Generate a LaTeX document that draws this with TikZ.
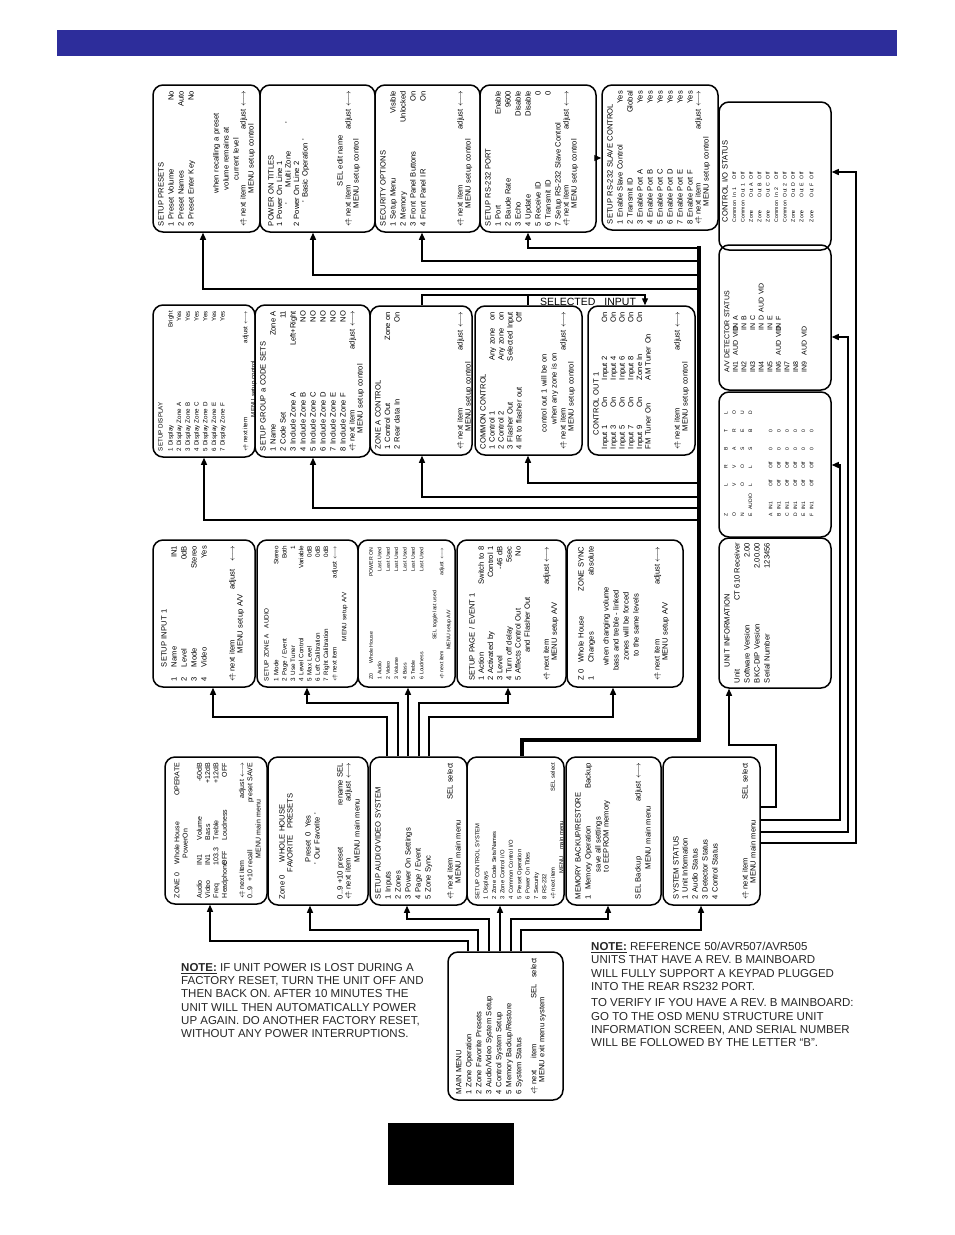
\documentclass[tikz,border=0pt]{standalone}
\usepackage{fontspec}
\setmainfont{Liberation Sans}
\usetikzlibrary{arrows.meta}
\setlength{\parindent}{0pt}

\definecolor{barblue}{RGB}{45,45,155}
\newcommand{\nav}{$\leftarrow\!\!\!\!\uparrow$}
\newcommand{\adj}{$\leftarrow\!\rightarrow$}
\newcommand{\cl}[2]{\makebox[#1pt][l]{#2}}
\newcommand{\fa}{\fontsize{7.6}{10}\selectfont}
\newcommand{\fb}{\fontsize{6.2}{8.4}\selectfont}
\newcommand{\fc}{\fontsize{5.2}{8.4}\selectfont}
% one menu screen: [text options]{name}{x1}{y1}{x2}{y2}{font}{text}
% (text is turned, so yshift<0 moves it right on the page)
\newcommand{\menu}[8][]{%
  \pgfmathsetmacro{\bw}{#5-#3}%
  \pgfmathsetmacro{\bh}{#6-#4}%
  \pgfmathsetmacro{\tw}{#6-#4-12}%
  \node[menubox, minimum width=\bw pt, minimum height=\bh pt] (#2) at ({(#3+#5)/2},{(#4+#6)/2}) {};
  \node[menutext, font=#7, text width=\tw pt, #1] (#2-t) at ({#3+5},{(#4+#6)/2}) {#8};
}

\begin{document}
\begin{tikzpicture}[x=1pt, y=-1pt,
    menubox/.style={draw, line width=1.5pt, rounded corners=10pt, inner sep=0pt},
    menutext/.style={rotate=90, anchor=north, inner sep=0pt, align=left},
    link/.style={line width=1.3pt, -{Triangle[length=7pt,width=6pt]}},
    plain/.style={line width=1.3pt},
    bus/.style={line width=4.5pt},
    notetext/.style={font=\fontsize{11.5}{13.3}\selectfont, text=black!85, align=left, inner sep=0pt}]
    \useasboundingbox (0,0) rectangle (954,1235);

    % Title bar
    \fill[barblue] (57,30) rectangle (897,56);

    % Row 1: control system screens
    \menu{presets}{153}{85}{260}{232}{\fa}{SETUP PRESETS\\
      1 Preset Volume\hfill No\\
      2 Preset Names\hfill Auto\\
      3 Preset Enter Key\hfill No\\[15pt]
      \hspace*{33pt}when recalling a preset\\
      \hspace*{36pt}volume remains at\\
      \hspace*{46pt}current level\\[-3pt]
      \nav\ next item\hfill adjust \adj\\[-2pt]
      \hspace*{33pt}MENU setup control}
    \menu[yshift=-3pt]{power}{260}{85}{375}{232}{\fa}{POWER ON TITLES\\[-1.5pt]
      1 Power On Line 1\\[-1.5pt]
      \hspace*{22pt}'\hspace{15pt}Multi Zone\hspace{28pt}'\\[-1.5pt]
      2 Power On Line 2\\[-1.5pt]
      \hspace*{24pt}' Basic Operation '\\[25pt]
      \hspace*{40pt}SEL edit name\\[-2pt]
      \nav\ next item\hfill adjust \adj\\[-2pt]
      \hspace*{18pt}MENU setup control}
    \menu{security}{375}{85}{480}{232}{\fa}{SECURITY OPTIONS\\
      1 Setup Menu\hfill Visible\\
      2 Memory\hfill Unlocked\\
      3 Front Panel Buttons\hfill On\\
      4 Front Panel IR\hfill On\\[27pt]
      \nav\ next item\hfill adjust \adj\\[-2pt]
      \hspace*{18pt}MENU setup control}
    \menu{rs232}{480}{85}{596}{232}{\fa}{SETUP RS-232 PORT\\
      1 Port\hfill Enable\\
      2 Baude Rate\hfill 9600\\
      3 Echo\hfill Disable\\
      4 Update\hfill Disable\\
      5 Receive ID\hfill 0\hspace{8pt}\\
      6 Transmit ID\hfill 0\hspace{8pt}\\
      7 Setup RS-232 Slave Control\\[-2pt]
      \nav\ next item\hfill adjust \adj\\[-2pt]
      \hspace*{18pt}MENU setup control}
    \menu{slave}{602}{85}{718}{230}{\fa}{SETUP RS-232 SLAVE CONTROL\\
      1 Enable Slave Control\hfill Yes\\
      2 Transmit ID\hfill Global\\
      3 Enable Port A\hfill Yes\\
      4 Enable Port B\hfill Yes\\
      5 Enable Port C\hfill Yes\\
      6 Enable Port D\hfill Yes\\
      7 Enable Port E\hfill Yes\\
      8 Enable Port F\hfill Yes\\[-2pt]
      \nav\ next item\hfill adjust \adj\\[-2pt]
      \hspace*{18pt}MENU setup control}

    % Right column: status screens
    \menu[yshift=2pt, text width=92pt]{ctrlio}{719}{102}{831}{250}{\fa}{CONTROL I/O STATUS\\
      \fc\cl{25}{Common}\cl{18}{In 1}Off\\
      \cl{25}{Common}\cl{18}{Out 1}Off\\
      \cl{25}{Zone}\cl{18}{Out A}Off\\
      \cl{25}{Zone}\cl{18}{Out B}Off\\
      \cl{25}{Zone}\cl{18}{Out C}Off\\
      \cl{25}{Common}\cl{18}{In 2}Off\\
      \cl{25}{Common}\cl{18}{Out 2}Off\\
      \cl{25}{Zone}\cl{18}{Out D}Off\\
      \cl{25}{Zone}\cl{18}{Out E}Off\\
      \cl{25}{Zone}\cl{18}{Out F}Off}
    \menu[text width=109pt]{avdet}{719}{245}{831}{390}{\fontsize{7}{8.6}\selectfont}{A/V DETECTOR STATUS\\
      \cl{17}{IN1}\cl{25}{AUD VID}IN A\\
      \cl{42}{IN2}IN B\\
      \cl{42}{IN3}IN C\\
      \cl{42}{IN4}\cl{18}{IN D}AUD VID\\
      \cl{42}{IN5}IN E\\
      \cl{17}{IN6}\cl{25}{AUD VID}IN F\\
      IN7\\
      IN8\\
      \cl{17}{IN9}AUD VID}
    \menu[text width=180pt]{audio}{719}{392}{831}{537}{\fontsize{5}{8.2}\selectfont}{%
      \hspace*{38pt}\cl{7}{Z}\cl{23}{}\cl{18}{L}\cl{18}{R}\cl{18}{B}\cl{18}{T}L\\
      \hspace*{38pt}\cl{7}{O}\cl{23}{}\cl{18}{V}\cl{18}{V}\cl{18}{A}\cl{18}{R}O\\
      \hspace*{38pt}\cl{7}{N}\cl{23}{}\cl{18}{O}\cl{18}{O}\cl{18}{S}\cl{18}{E}U\\
      \hspace*{38pt}\cl{7}{E}\cl{23}{AUDIO}\cl{18}{L}\cl{18}{L}\cl{18}{S}\cl{18}{B}D\\[12pt]
      \hspace*{38pt}\cl{7}{A}\cl{23}{IN1}\cl{18}{Off}\cl{18}{Off}\cl{18}{0}\cl{18}{0}\\
      \hspace*{38pt}\cl{7}{B}\cl{23}{IN1}\cl{18}{Off}\cl{18}{Off}\cl{18}{0}\cl{18}{0}\\
      \hspace*{38pt}\cl{7}{C}\cl{23}{IN1}\cl{18}{Off}\cl{18}{Off}\cl{18}{0}\cl{18}{0}\\
      \hspace*{38pt}\cl{7}{D}\cl{23}{IN1}\cl{18}{Off}\cl{18}{Off}\cl{18}{0}\cl{18}{0}\\
      \hspace*{38pt}\cl{7}{E}\cl{23}{IN1}\cl{18}{Off}\cl{18}{Off}\cl{18}{0}\cl{18}{0}\\
      \hspace*{38pt}\cl{7}{F}\cl{23}{IN1}\cl{18}{Off}\cl{18}{Off}\cl{18}{0}\cl{18}{0}}
    \menu[text width=140pt]{unitinfo}{719}{538}{831}{688}{\fa}{\hspace*{16pt}UNIT INFORMATION\\
      Unit\hfill CT 610 Receiver\\
      Software Version\hfill 2.00\\
      BKC-DIP Version\hfill 2.00.00\\
      Serial Number\hfill 123456}

    % Row 2
    \menu{display}{153}{305}{255}{457}{\fontsize{6.2}{8.7}\selectfont}{SETUP DISPLAY\\[1.3pt]
      1 Display\hfill Bright\\
      2 Display Zone A\hfill Yes\\
      3 Display Zone B\hfill Yes\\
      4 Display Zone C\hfill Yes\\
      5 Display Zone D\hfill Yes\\
      6 Display Zone E\hfill Yes\\
      7 Display Zone F\hfill Yes\\[14pt]
      \nav\ next item\hfill adjust \adj\\[-0.7pt]
      \hspace*{34pt}MENU setup control}
    \menu{group}{255}{305}{370}{457}{\fa}{SETUP GROUP a CODE SETS\\
      1 Name\hfill Zone A\\
      2 Code Set\hfill 11\hspace{6pt}\\
      3 Include Zone A\hfill Left+Right\\
      4 Include Zone B\hfill NO\\
      5 Include Zone C\hfill NO\\
      6 Include Zone D\hfill NO\\
      7 Include Zone E\hfill NO\\
      8 Include Zone F\hfill NO\\[-1pt]
      \nav\ next item\hfill adjust \adj\\[-2pt]
      \hspace*{18pt}MENU setup control}
    \menu{zoneA}{370}{306}{472}{455}{\fa}{ZONE A CONTROL\\[-0.5pt]
      1 Control Out\hfill Zone on\\[-0.5pt]
      2 Rear data In\hfill On\hspace{2pt}\\[53pt]
      \nav\ next item\hfill adjust \adj\\[-2pt]
      \hspace*{18pt}MENU setup control}
    \menu{common}{475}{306}{582}{455}{\fa}{COMMON CONTROL\\[-1pt]
      1 Control 1\hfill Any zone\hspace{8pt}on\\[-1pt]
      2 Control 2\hfill Any zone\hspace{8pt}on\\[-1pt]
      3 Flasher Out\hfill Selected Input\\[-1pt]
      4 IR to flasher out\hfill Off\hspace{6pt}\\[15pt]
      \hspace*{17pt}control out 1 will be on\\
      \hspace*{25pt}when any zone is on\\[-1pt]
      \nav\ next item\hfill adjust \adj\\[-2pt]
      \hspace*{18pt}MENU setup control}
    \menu{ctrlout}{588}{306}{695}{455}{\fa}{\hspace*{14pt}CONTROL OUT 1\\[-1.3pt]
      \cl{42}{Input 1}\cl{27}{On}Input 2\hfill On\\[-1.3pt]
      \cl{42}{Input 3}\cl{27}{On}Input 4\hfill On\\[-1.3pt]
      \cl{42}{Input 5}\cl{27}{On}Input 6\hfill On\\[-1.3pt]
      \cl{42}{Input 7}\cl{27}{On}Input 8\hfill On\\[-1.3pt]
      \cl{42}{Input 9}\cl{27}{On}Zone In\hfill On\\[-1.3pt]
      \cl{69}{FM Tuner On}AM Tuner On\\[19pt]
      \nav\ next item\hfill adjust \adj\\[-2pt]
      \hspace*{18pt}MENU setup control}

    % Row 3: audio/video setup screens
    \menu[yshift=-3pt]{input}{153}{540}{255}{687}{\fa}{\hspace*{14pt}SETUP INPUT 1\\
      \cl{14}{1}Name\hfill IN1\\
      \cl{14}{2}Level\hfill 0dB\\
      \cl{14}{3}Mode\hfill Stereo\\
      \cl{14}{4}Video\hfill Yes\\[18pt]
      \nav\ next item\hfill adjust\hspace{8pt}\adj\\[-2pt]
      \hspace*{28pt}MENU setup A/V}
    \menu[yshift=-2pt]{zoneaudio}{257}{540}{358}{687}{\fontsize{6.3}{8.3}\selectfont}{SETUP ZONE A\hspace{6pt}AUDIO\\[1.5pt]
      1 Mode\hfill Stereo\\
      2 Page / Event\hfill Both\\
      3 Use Tuner\hfill 1\\
      4 Level Control\hfill Variable\\
      5 Max Level\hfill 0dB\\
      6 Left Calibration\hfill 0dB\\
      7 Right Calibration\hfill 0dB\\
      \nav\ next item\hfill adjust \adj\\[1.5pt]
      \hspace*{40pt}MENU setup A/V}
    \menu[yshift=-6pt, text width=132pt]{whole}{358}{540}{455}{687}{\fc}{\cl{16}{Z0}Whole House\hfill POWER ON\\
      1 Audio\hfill Last Used\\
      2 Video\hfill Last Used\\
      3 Volume\hfill Last Used\\
      4 Bass\hfill Last Used\\
      5 Treble\hfill Last Used\\
      6 Loudness\hfill Last Used\\[4.6pt]
      \hspace*{40pt}SEL toggle last used\\[-1.4pt]
      \nav\ next item\hfill adjust \adj\\[-1.4pt]
      \hspace*{30pt}MENU setup A/V}
    \menu[yshift=-7pt, text width=134pt]{pageevent}{457}{540}{566}{687}{\fa}{SETUP PAGE / EVENT 1\\[-0.8pt]
      1 Action\hfill Switch to 8\\[-0.8pt]
      2 Activated by\hfill Control 1\\[-0.8pt]
      3 Level\hfill -46 dB\\[-0.8pt]
      4 Turn off delay\hfill 5sec\\[-0.8pt]
      5 Affects Control Out\hfill No\hspace{12pt}\\[-0.8pt]
      \hspace*{28pt}and Flasher Out\\[9pt]
      \nav\ next item\hfill adjust \adj\\[-2pt]
      \hspace*{20pt}MENU setup A/V}
    \menu[yshift=-6pt, text width=134pt]{zonesync}{567}{540}{683}{687}{\fa}{\cl{18}{Z 0}Whole House\hfill ZONE SYNC\\
      \cl{18}{1}Changes\hfill absolute\hspace{5pt}\\[5pt]
      \hspace*{15pt}when changing volume\\
      \hspace*{10pt}bass and treble - linked\\
      \hspace*{20pt}zones will be forced\\
      \hspace*{24pt}to the same levels\\[11pt]
      \nav\ next item\hfill adjust \adj\\[-2pt]
      \hspace*{20pt}MENU setup A/V}

    % Row 4: main menu screens
    \menu[yshift=-4pt]{zone0}{165}{757}{267}{904}{\fontsize{7}{8.3}\selectfont}{ZONE 0\hspace{8pt}Whole House\hfill OPERATE\\
      \hspace*{40pt}\cl{20}{Power}On\\[6pt]
      \cl{33}{Audio}\cl{25}{IN1}Volume\hfill -60dB\\
      \cl{33}{Video}\cl{25}{IN1}Bass\hfill +12dB\\
      \cl{33}{Freq}\cl{25}{103.3}Treble\hfill +12dB\\
      \cl{33}{Headphone}\cl{25}{OFF}Loudness\hfill OFF\\[9pt]
      \nav\ next item\hfill adjust \adj\\
      0..9\hspace{5pt}+10 recall\hfill preset SAVE\\
      \hspace*{40pt}MENU main menu}
    \menu[yshift=-6pt]{fav}{268}{757}{368}{905}{\fa}{\cl{37}{Zone 0}WHOLE HOUSE\\[-2pt]
      \hspace*{27pt}FAVORITE\hspace{6pt}PRESETS\\[8pt]
      \hspace*{37pt}Preset\hspace{4pt}0\hspace{4pt}Yes\\[-1pt]
      \hspace*{35pt}' Our Favorite '\\[13pt]
      0..9 +10 preset\hfill rename SEL\\[-2pt]
      \nav\ next item\hfill adjust \adj\\[-1pt]
      \hspace*{37pt}MENU main menu}
    \menu{avsetup}{370}{757}{467}{905}{\fa}{SETUP AUDIO/VIDEO SYSTEM\\
      1 Inputs\\
      2 Zones\\
      3 Power On Settings\\
      4 Page / Event\\
      5 Zone Sync\\[12pt]
      \nav\ next item\hfill SEL select\\[-2pt]
      \hspace*{16pt}MENU main menu}
    \menu[yshift=-3pt]{ctrlsys}{467}{757}{564}{905}{\fontsize{5.8}{8.4}\selectfont}{SETUP CONTROL SYSTEM\\
      1 Displays\\
      2 Zone Code Sets/Names\\
      3 Zone Control I/O\\
      4 Common Control I/O\\
      5 Preset Operation\\
      6 Power On Titles\\
      7 Security\\
      8 RS-232\\
      \nav\ next item\hfill SEL select\\
      \hspace*{26pt}MENU\hspace{6pt}main menu}
    \menu[yshift=-4pt]{memory}{566}{757}{661}{905}{\fa}{MEMORY BACKUP/RESTORE\\
      1\hspace{5pt}Memory Operation\hfill Backup\\
      \hspace*{27pt}save all settings\\[-2pt]
      \hspace*{27pt}to EEPROM memory\\[22pt]
      SEL Backup\hfill adjust \adj\\
      \hspace*{30pt}MENU main menu}
    \menu[yshift=-5pt]{sysstat}{663}{757}{760}{905}{\fa}{SYSTEM STATUS\\[-1pt]
      1 Unit Information\\
      2 Audio Status\\
      3 Detector Status\\
      4 Control Status\\[20pt]
      \nav\ next item\hfill SEL select\\[-2pt]
      \hspace*{16pt}MENU main menu}

    % Main menu
    \menu[yshift=-3pt]{mainmenu}{448}{952}{563}{1100}{\fa}{MAIN MENU\\
      1 Zone Operation\\
      2 Zone Favorite Presets\\
      3 Audio/Video System Setup\\
      4 Control System Setup\\
      5 Memory Backup/Restore\\
      6 System Status\\[5pt]
      \nav\ next\hspace{12pt}item\hfill SEL\hspace{6pt}select\\[-2pt]
      \hspace*{12pt}MENU exit menu system}

    % Main menu to its six screens
    \draw[link] (468,0 |- mainmenu.north) |- (210,941) -- (210,0 |- zone0.south);
    \draw[link] (478,0 |- mainmenu.north) |- (310,930) -- (310,0 |- fav.south);
    \draw[link] (489,0 |- mainmenu.north) |- (407,919) -- (407,0 |- avsetup.south);
    \draw[link] (500,0 |- mainmenu.north) -- (500,0 |- ctrlsys.south);
    \draw[link] (511,0 |- mainmenu.north) |- (608,919) -- (608,0 |- memory.south);
    \draw[link] (521,0 |- mainmenu.north) |- (701,930) -- (701,0 |- sysstat.south);

    % Audio/video setup to row 3
    \draw[link] (387,0 |- avsetup.north) |- (213,717) -- (213,0 |- input.south);
    \draw[link] (398,0 |- avsetup.north) |- (307,703) -- (307,0 |- zoneaudio.south);
    \draw[link] (408,0 |- avsetup.north) -- (408,0 |- whole.south);
    \draw[link] (419,0 |- avsetup.north) |- (508,703) -- (508,0 |- pageevent.south);
    \draw[link] (429,0 |- avsetup.north) |- (613,717) -- (613,0 |- zonesync.south);

    % Control system bus
    \coordinate (bustop) at (699,246);
    \draw[bus] (522,0 |- ctrlsys.north) |- (699,740) -- (bustop);
    \draw[link] (699,520) -| (204,0 |- display.south);
    \draw[link] (699,508) -| (313,0 |- group.south);
    \draw[link] (699,497) -| (422,0 |- zoneA.south);
    \draw[link] (699,483) -| (528,0 |- common.south);
    \draw[link] (699,289) -| (203,0 |- presets.south);
    \draw[link] (699,275) -| (313,0 |- power.south);
    \draw[link] (699,261) -| (422,0 |- security.south);
    \draw[link] (699,248) -| (528,0 |- rs232.south);
    \draw[link] (rs232.east |- 0,158) -- (slave.west |- 0,158);

    % Selected input
    \draw[link] (422,0 |- zoneA.north) |- (645,295) -- (645,0 |- ctrlout.north);
    \draw[plain] (528,0 |- common.north) -- (528,295);
    \node[font=\fontsize{10.5}{12}\selectfont, anchor=base] (selin) at (588,305) {SELECTED\hspace{9pt}INPUT};

    % System status to the status screens
    \draw[link] (sysstat.east |- 0,843) -| (856,172) -- (ctrlio.east |- 0,172);
    \draw[link] (sysstat.east |- 0,832) -| (848,337) -- (avdet.east |- 0,337);
    \draw[link] (sysstat.east |- 0,820) -| (840,465) -- (audio.east |- 0,465);
    \draw[link] (sysstat.east |- 0,807) -| (776,745) -| (729,0 |- unitinfo.south);

    % Notes
    \node[notetext, anchor=north west] (note1) at (181,963) {\underline{\textbf{NOTE:}} IF UNIT POWER IS LOST DURING A\\
      FACTORY RESET, TURN THE UNIT OFF AND\\
      THEN BACK ON. AFTER 10 MINUTES THE\\
      UNIT WILL THEN AUTOMATICALLY POWER\\
      UP AGAIN. DO ANOTHER FACTORY RESET,\\
      WITHOUT ANY POWER INTERRUPTIONS.};
    \node[notetext, anchor=north west] (note2) at (591,942) {\underline{\textbf{NOTE:}} REFERENCE 50/AVR507/AVR505\\
      UNITS THAT HAVE A REV. B MAINBOARD\\
      WILL FULLY SUPPORT A KEYPAD PLUGGED\\
      INTO THE REAR RS232 PORT.\\[3pt]
      TO VERIFY IF YOU HAVE A REV. B MAINBOARD:\\
      GO TO THE OSD MENU STRUCTURE UNIT\\
      INFORMATION SCREEN, AND SERIAL NUMBER\\
      WILL BE FOLLOWED BY THE LETTER “B”.};

    % Page tab
    \fill (388,1123) rectangle (514,1185);
\end{tikzpicture}
\end{document}
